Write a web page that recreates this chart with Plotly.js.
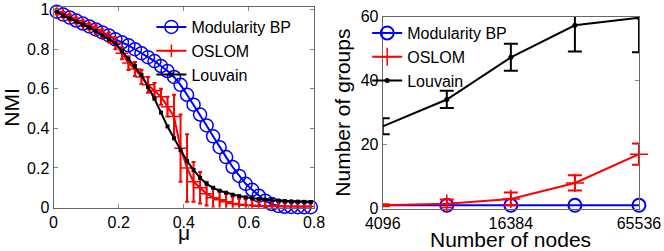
<!DOCTYPE html>
<html>
<head>
<meta charset="utf-8">
<script src="https://cdn.plot.ly/plotly-3.0.1.min.js"></script>
<style>html,body{margin:0;padding:0;background:#fff}#chart{width:664px;height:251px}</style>
</head>
<body>
<div id="chart"></div>
<script>
// ---- Left panel: NMI vs mu ----
var mu = [0.01,0.03,0.05,0.07,0.09,0.11,0.13,0.15,0.17,0.19,0.21,0.23,0.25,0.27,0.29,0.31,0.33,0.35,0.37,0.39,0.41,0.43,0.45,0.47,0.49,0.51,0.53,0.55,0.57,0.59,0.61,0.63,0.65,0.67,0.69,0.71,0.73,0.75,0.77,0.79];
var nmiBP = [0.99,0.975,0.96,0.945,0.93,0.915,0.90,0.885,0.87,0.85,0.835,0.82,0.80,0.78,0.76,0.74,0.715,0.69,0.66,0.62,0.57,0.52,0.47,0.415,0.36,0.305,0.255,0.205,0.16,0.12,0.09,0.06,0.035,0.018,0.008,0.004,0.003,0.002,0.002,0.002];
var nmiOSLOM = [0.99,0.975,0.96,0.945,0.93,0.915,0.90,0.88,0.86,0.83,0.78,0.73,0.70,0.66,0.62,0.59,0.56,0.51,0.46,0.30,0.20,0.13,0.10,0.07,0.05,0.04,0.03,0.02,0.015,0.012,0.01,0.008,0.007,0.006,0.006,0.005,0.005,0.005,0.005,0.005];
var errOSLOM = [0.015,0.015,0.015,0.015,0.015,0.015,0.02,0.02,0.025,0.03,0.03,0.035,0.035,0.035,0.04,0.04,0.04,0.05,0.11,0.17,0.17,0.10,0.08,0.06,0.05,0.045,0.04,0.035,0.03,0.03,0.03,0.025,0.025,0.025,0.025,0.02,0.02,0.02,0.02,0.02];
var nmiLouvain = [0.99,0.97,0.955,0.94,0.925,0.91,0.89,0.87,0.85,0.83,0.79,0.75,0.715,0.67,0.61,0.55,0.48,0.41,0.35,0.29,0.235,0.19,0.15,0.12,0.10,0.085,0.075,0.065,0.058,0.052,0.047,0.043,0.04,0.037,0.035,0.033,0.031,0.03,0.029,0.028];

// ---- Right panel: number of groups vs number of nodes ----
var nodes = [4096,8192,16384,32768,65536];
var nodeTicks = [4096,16384,65536];
var groupsBP = [1,1,1,1,1];
var groupsOSLOM = [1,1.5,3,8,17];
var errGroupsOSLOM = [0.3,1.3,2,2.4,3.3];
var groupsLouvain = [25.7,34.1,47.3,57.3,59.7];
var errGroupsLouvain = [2.5,2.7,4.2,8.2,10.8];

var FONT = '"Liberation Sans", Arial, Helvetica, sans-serif';
var BLUE = '#0000ff', RED = '#ff0000', BLACK = '#000000';

var traces = [
  {x: mu, y: nmiBP, type:'scatter', mode:'lines+markers', name:'Modularity BP', cliponaxis:false,
   line:{color:BLUE, width:2}, marker:{symbol:'circle-open', size:13, color:BLUE, line:{width:1.5}},
   xaxis:'x', yaxis:'y', legend:'legend'},
  {x: mu, y: nmiOSLOM, type:'scatter', mode:'lines+markers', name:'OSLOM',
   line:{color:RED, width:2}, marker:{symbol:'cross-thin-open', size:9, color:RED, line:{width:1.5, color:RED}},
   error_y:{type:'data', array: errOSLOM, color:RED, thickness:2, width:2},
   xaxis:'x', yaxis:'y', legend:'legend'},
  {x: mu, y: nmiLouvain, type:'scatter', mode:'lines+markers', name:'Louvain', cliponaxis:false,
   line:{color:BLACK, width:2}, marker:{symbol:'square', size:4, color:BLACK},
   xaxis:'x', yaxis:'y', legend:'legend'},

  {x: nodes, y: groupsBP, type:'scatter', mode:'lines+markers', name:'Modularity BP', cliponaxis:false,
   line:{color:BLUE, width:2}, marker:{symbol:'circle-open', size:13, color:BLUE, line:{width:2}},
   xaxis:'x2', yaxis:'y2', legend:'legend2'},
  {x: nodes, y: groupsOSLOM, type:'scatter', mode:'lines+markers', name:'OSLOM', cliponaxis:false,
   line:{color:RED, width:2}, marker:{symbol:'cross-thin-open', size:13, color:RED, line:{width:1.5, color:RED}},
   error_y:{type:'data', array: errGroupsOSLOM, color:RED, thickness:2, width:7},
   xaxis:'x2', yaxis:'y2', legend:'legend2'},
  {x: nodes, y: groupsLouvain, type:'scatter', mode:'lines+markers', name:'Louvain',
   line:{color:BLACK, width:2}, marker:{symbol:'circle', size:5, color:BLACK},
   error_y:{type:'data', array: errGroupsLouvain, color:BLACK, thickness:2, width:7},
   xaxis:'x2', yaxis:'y2', legend:'legend2'}
];

var axCommon = {showgrid:false, zeroline:false, showline:true, mirror:'ticks', linecolor:'#666', linewidth:1,
  ticks:'inside', ticklen:4, tickcolor:'#888', tickfont:{family:FONT, size:16, color:'#000'}};

var layout = {
  width:664, height:251, margin:{l:0,r:0,t:0,b:0}, paper_bgcolor:'#fff', plot_bgcolor:'#fff',
  font:{family:FONT, color:'#000'}, showlegend:true,
  xaxis: Object.assign({}, axCommon, {domain:[0.0806,0.473], range:[0,0.8], tickvals:[0,0.2,0.4,0.6,0.8],
    ticktext:['0','0.2','0.4','0.6','0.8'], anchor:'y'}),
  yaxis: Object.assign({}, axCommon, {domain:[0.173,0.971], range:[0,1.012], tickvals:[0,0.2,0.4,0.6,0.8,1],
    ticktext:['0','0.2','0.4','0.6','0.8','1'], anchor:'x', title:{text:'NMI', font:{family:FONT,size:21}, standoff:4}}),
  xaxis2: Object.assign({}, axCommon, {domain:[0.5764,0.9623], type:'log', range:[Math.log10(4096), Math.log10(65536)],
    tickvals:nodeTicks, ticktext:nodeTicks.map(String), anchor:'y2', ticks:''}),
  yaxis2: Object.assign({}, axCommon, {domain:[0.1693,0.9335], range:[0,60], tickvals:[0,20,40,60], anchor:'x2',
    title:{text:'Number of groups', font:{family:FONT,size:21}, standoff:4}}),
  annotations: [
    {text:'μ', xref:'paper', yref:'paper', x:(0.0806+0.473)/2, y:0.073, xanchor:'center', yanchor:'middle',
     showarrow:false, font:{family:FONT, size:21, color:'#000'}},
    {text:'Number of nodes', xref:'paper', yref:'paper', x:(0.5764+0.9623)/2, y:0.046, xanchor:'center', yanchor:'middle',
     showarrow:false, font:{family:FONT, size:21, color:'#000'}}
  ],
  legend: {x:0.228, y:0.96, xanchor:'left', yanchor:'top', bgcolor:'rgba(0,0,0,0)', borderwidth:0,
    font:{family:FONT, size:16}, tracegroupgap:0, itemwidth:30},
  legend2: {x:0.553, y:0.936, xanchor:'left', yanchor:'top', bgcolor:'rgba(0,0,0,0)', borderwidth:0,
    font:{family:FONT, size:16}, tracegroupgap:0, itemwidth:30}
};

Plotly.newPlot('chart', traces, layout, {displayModeBar:false, staticPlot:true});
</script>
</body>
</html>
